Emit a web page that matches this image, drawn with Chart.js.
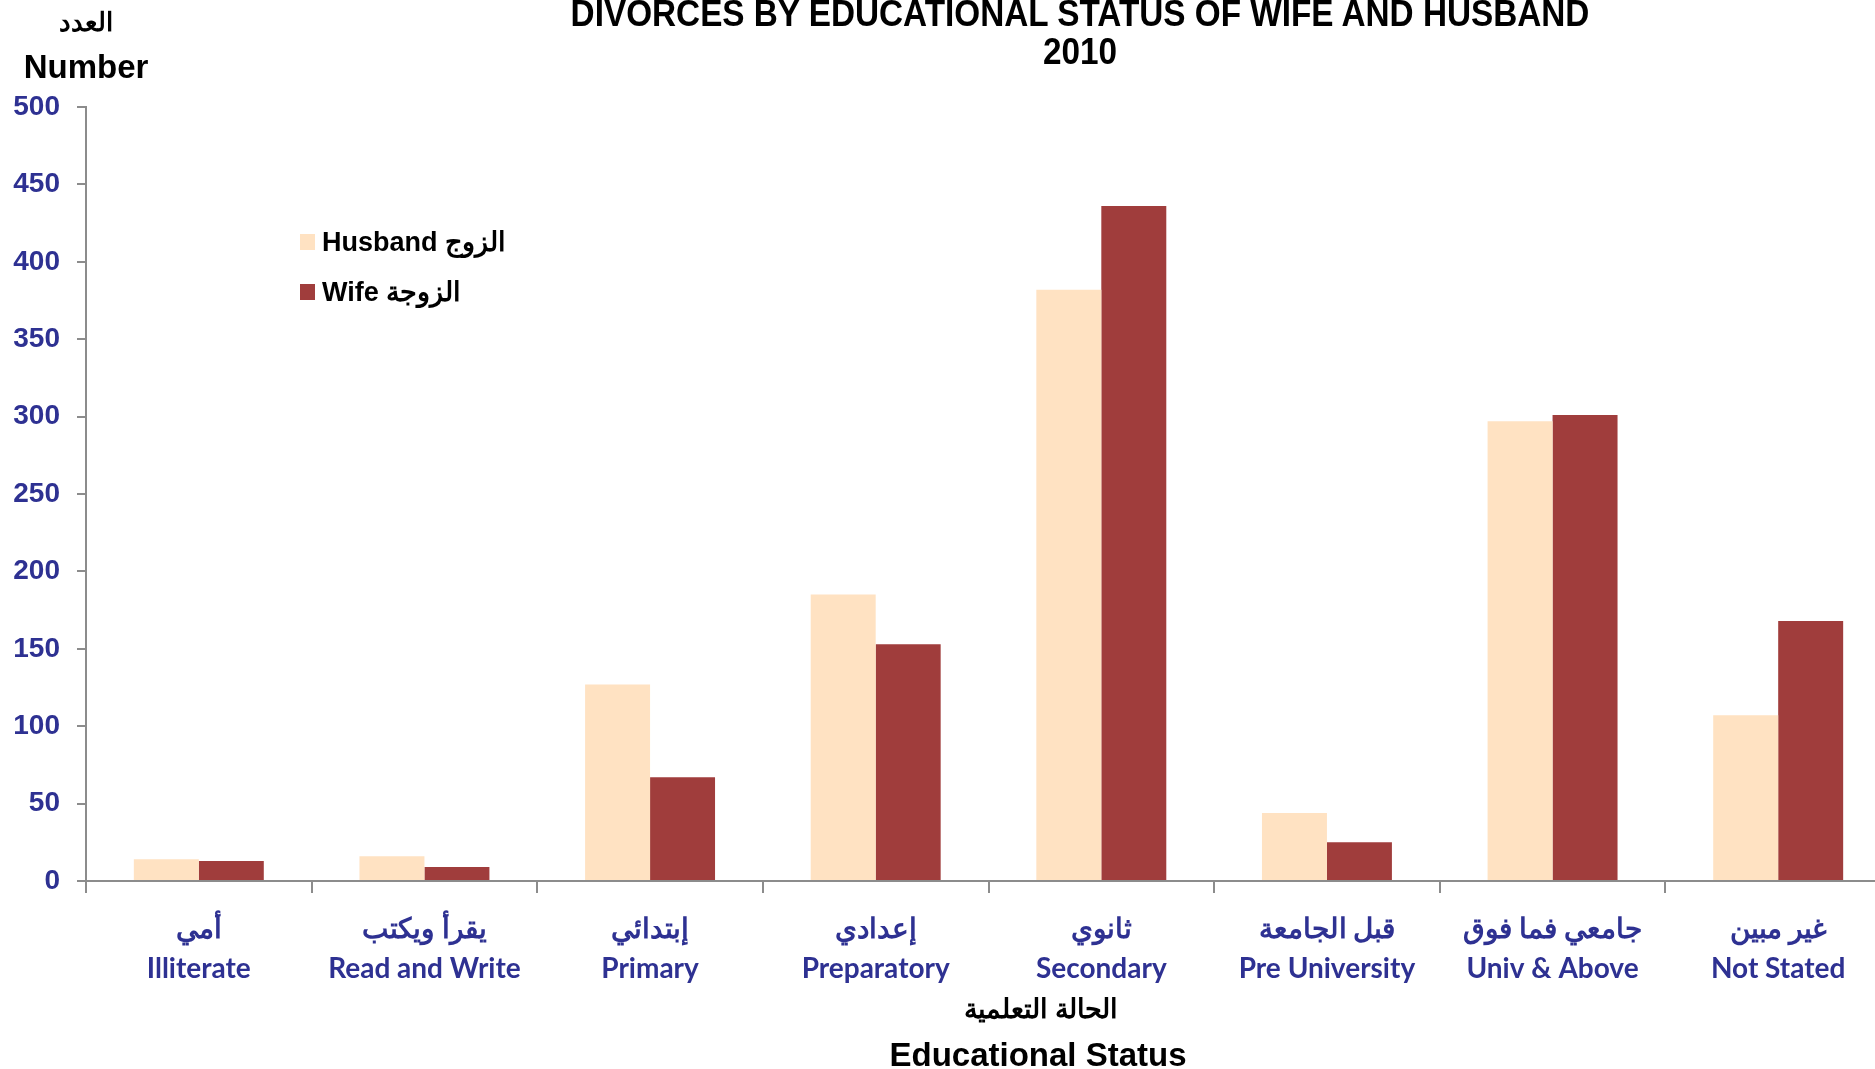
<!DOCTYPE html>
<html>
<head>
<meta charset="utf-8">
<script src="https://cdn.jsdelivr.net/npm/chart.js@4.4.1/dist/chart.umd.min.js"></script>
<style>
  html, body { margin: 0; padding: 0; background: #fff; overflow: hidden; width: 1875px; height: 1069px; }
  #wrap { position: absolute; left: 0; top: 0; width: 1891px; height: 1069px; }
  .txt { position: absolute; white-space: nowrap; font-family: "Liberation Sans", Arial, sans-serif; font-weight: bold; color: #000; }
  .center { transform: translateX(-50%); text-align: center; }
  #legend { position: absolute; left: 300px; top: 217px; font-family: "Liberation Sans", Arial, sans-serif; font-weight: bold; font-size: 27px; }
  #legend .item { display: flex; align-items: center; height: 50px; }
  #legend .box { width: 15px; height: 16px; margin-right: 7px; }
</style>
</head>
<body>
<div id="wrap">
  <canvas id="chart" width="1891" height="1069"></canvas>
</div>

<div class="txt" style="left:1080px; top:-7px; font-size:37px; transform: translateX(-50%) scaleX(0.9);">DIVORCES BY EDUCATIONAL STATUS OF WIFE AND HUSBAND</div>
<div class="txt" style="left:1080px; top:31px; font-size:37px; transform: translateX(-50%) scaleX(0.9);">2010</div>
<div class="txt center" style="left:86px; top:7px; font-size:26px;">العدد</div>
<div class="txt center" style="left:86px; top:48px; font-size:33px;">Number</div>
<div class="txt center" style="left:1041px; top:993px; font-size:27px;">الحالة التعلمية</div>
<div class="txt center" style="left:1038px; top:1036px; font-size:33px;">Educational Status</div>
<div id="legend"></div>

<script>
// categories (Arabic line on top, English below)
const categoriesAr = ['أمي', 'يقرأ ويكتب', 'إبتدائي', 'إعدادي', 'ثانوي', 'قبل الجامعة', 'جامعي فما فوق', 'غير مبين'];
const categoriesEn = ['Illiterate', 'Read and Write', 'Primary', 'Preparatory', 'Secondary', 'Pre University', 'Univ & Above', 'Not Stated'];

const seriesNames = ['Husband الزوج', 'Wife الزوجة'];
const husband = [14, 16, 127, 185, 382, 44, 297, 107];
const wife = [13, 9, 67, 153, 436, 25, 301, 168];

const yTicks = [0, 50, 100, 150, 200, 250, 300, 350, 400, 450, 500];

const husbandColor = '#FFE2C2';
const wifeColor = '#A03D3C';
const tickBlue = '#2E3192';
const axisGray = '#8c8c8c';

const labels = categoriesAr.map((ar, i) => [ar, categoriesEn[i]]);

const chart = new Chart(document.getElementById('chart'), {
  type: 'bar',
  data: {
    labels: labels,
    datasets: [
      { label: seriesNames[0], data: husband, backgroundColor: husbandColor, borderWidth: 0 },
      { label: seriesNames[1], data: wife, backgroundColor: wifeColor, borderWidth: 0 },
    ],
  },
  options: {
    responsive: false,
    animation: false,
    devicePixelRatio: 1,
    layout: { padding: { top: 107, left: 0, right: 0, bottom: 0 } },
    datasets: { bar: { categoryPercentage: 0.576, barPercentage: 1.0 } },
    plugins: {
      legend: { display: false },
      title: { display: false },
      tooltip: { enabled: false },
    },
    scales: {
      x: {
        grid: { drawOnChartArea: false, drawTicks: true, tickLength: 12, color: axisGray, lineWidth: 2, offset: true },
        border: { display: true, color: axisGray, width: 2 },
        ticks: {
          color: tickBlue,
          font: { family: 'Lato, "Open Sans", sans-serif', weight: 'bold', size: 28, lineHeight: 1.43 },
          padding: 16,
          maxRotation: 0,
          autoSkip: false,
        },
        afterFit: (scale) => { scale.height = 188; },
      },
      y: {
        min: 0,
        max: 500,
        afterBuildTicks: (scale) => { scale.ticks = yTicks.map(v => ({ value: v })); },
        grid: { drawOnChartArea: false, drawTicks: true, tickLength: 9, color: axisGray, lineWidth: 2 },
        border: { display: true, color: axisGray, width: 2 },
        ticks: {
          color: tickBlue,
          font: { family: '"Liberation Sans", Arial, sans-serif', weight: 'bold', size: 28 },
          padding: 17,
        },
        afterFit: (scale) => { scale.width = 86; },
      },
    },
  },
});

// legend inside the plot, built from the datasets
const legend = document.getElementById('legend');
chart.data.datasets.forEach(ds => {
  const item = document.createElement('div');
  item.className = 'item';
  const box = document.createElement('span');
  box.className = 'box';
  box.style.background = ds.backgroundColor;
  const label = document.createElement('span');
  label.textContent = ds.label;
  item.appendChild(box);
  item.appendChild(label);
  legend.appendChild(item);
});
</script>
</body>
</html>
